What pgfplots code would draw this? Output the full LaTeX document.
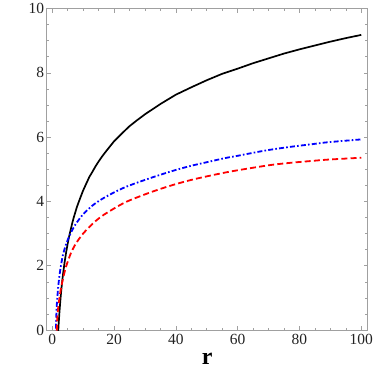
\documentclass[border=0pt]{standalone}
\usepackage{fontspec}
\setmainfont{Liberation Serif}
\usepackage{pgfplots}
\pgfplotsset{compat=1.18}
\definecolor{framegray}{HTML}{A0A0A0}
\definecolor{labgray}{HTML}{222222}

\begin{document}
\begin{tikzpicture}
\begin{axis}[
  scale only axis,
  width=321.6bp, height=322bp,
  xmin=-1.8, xmax=102.1,
  ymin=0, ymax=10,
  xtick={0,20,...,100},
  ytick={0,2,...,10},
  minor x tick num=3,
  minor y tick num=3,
  tick align=inside,
  major tick length=4bp,
  minor tick length=2.3bp,
  axis line style={draw=framegray, line width=0.7bp},
  every tick/.style={draw=framegray, line width=0.6bp},
  tick label style={font=\fontsize{15.5bp}{17bp}\selectfont, text=labgray},
  /pgf/number format/assume math mode=true,
  xticklabel style={yshift=-0.5bp},
  yticklabel style={xshift=1bp},
  xlabel={\textbf{r}},
  xlabel style={font=\fontsize{24bp}{26bp}\selectfont, yshift=-2bp},
]
% black solid
\addplot[black, line width=1.7bp] coordinates {
  (1.8,-0.32) (1.9,-0.14) (2.0,0.04) (2.1,0.20) (2.2,0.35) (2.35,0.56)
  (2.5,0.75) (2.75,1.04) (3,1.30) (3.25,1.53) (3.5,1.73) (3.75,1.92)
  (4,2.10) (4.5,2.41) (5,2.68) (5.5,2.92) (6,3.13) (6.5,3.33) (7,3.51)
  (7.5,3.67) (8,3.83) (9,4.09) (10,4.34) (11,4.55) (12,4.76) (13,4.92)
  (14,5.09) (15,5.24) (16,5.38) (17.5,5.57) (20,5.87) (22.5,6.11)
  (25,6.34) (27.5,6.53) (30,6.71) (35,7.03) (40,7.32) (45,7.55)
  (50,7.77) (55,7.97) (60,8.13) (65,8.30) (70,8.45) (75,8.60)
  (80,8.73) (85,8.85) (90,8.97) (95,9.08) (100,9.18)
};
% blue dash-dot
\addplot[blue, line width=1.8bp, smooth, dash pattern=on 5bp off 2.2bp on 1.6bp off 2.2bp] coordinates {
  (1.15,-0.3) (1.2,0) (1.3,0.35) (1.4,0.6) (1.5,0.8) (1.7,1.05) (2.0,1.4)
  (2.5,1.8) (3.0,2.1) (3.5,2.35) (4.0,2.52) (4.5,2.67) (5,2.8) (6,3.02)
  (7,3.2) (8,3.35) (10,3.6) (13,3.87) (16,4.07) (20,4.28) (24,4.46)
  (30,4.67) (35,4.83) (40,4.98) (45,5.11) (50,5.22) (56,5.35) (60,5.42)
  (67,5.55) (72,5.63) (78,5.71) (84,5.78) (89,5.84) (100,5.93)
};
% red dashed
\addplot[red, line width=1.8bp, smooth, dash pattern=on 6bp off 3.2bp] coordinates {
  (1.45,-0.3) (1.5,0) (1.6,0.3) (1.8,0.55) (2.0,0.75) (2.5,1.1) (3.0,1.38)
  (3.5,1.6) (4.0,1.8) (4.5,1.98) (5,2.12) (6,2.38) (7,2.58) (8,2.74)
  (10,3.0) (13,3.3) (16,3.54) (20,3.78) (24,3.99) (30,4.22) (35,4.39)
  (40,4.54) (45,4.67) (50,4.78) (56,4.9) (60,4.97) (67,5.08) (72,5.15)
  (78,5.21) (84,5.26) (89,5.3) (100,5.36)
};
\end{axis}
\path (current axis.south west) ++(-46.7bp,-47bp)
  rectangle ([shift={(5.7bp,8bp)}]current axis.north east);
\end{tikzpicture}
\end{document}
